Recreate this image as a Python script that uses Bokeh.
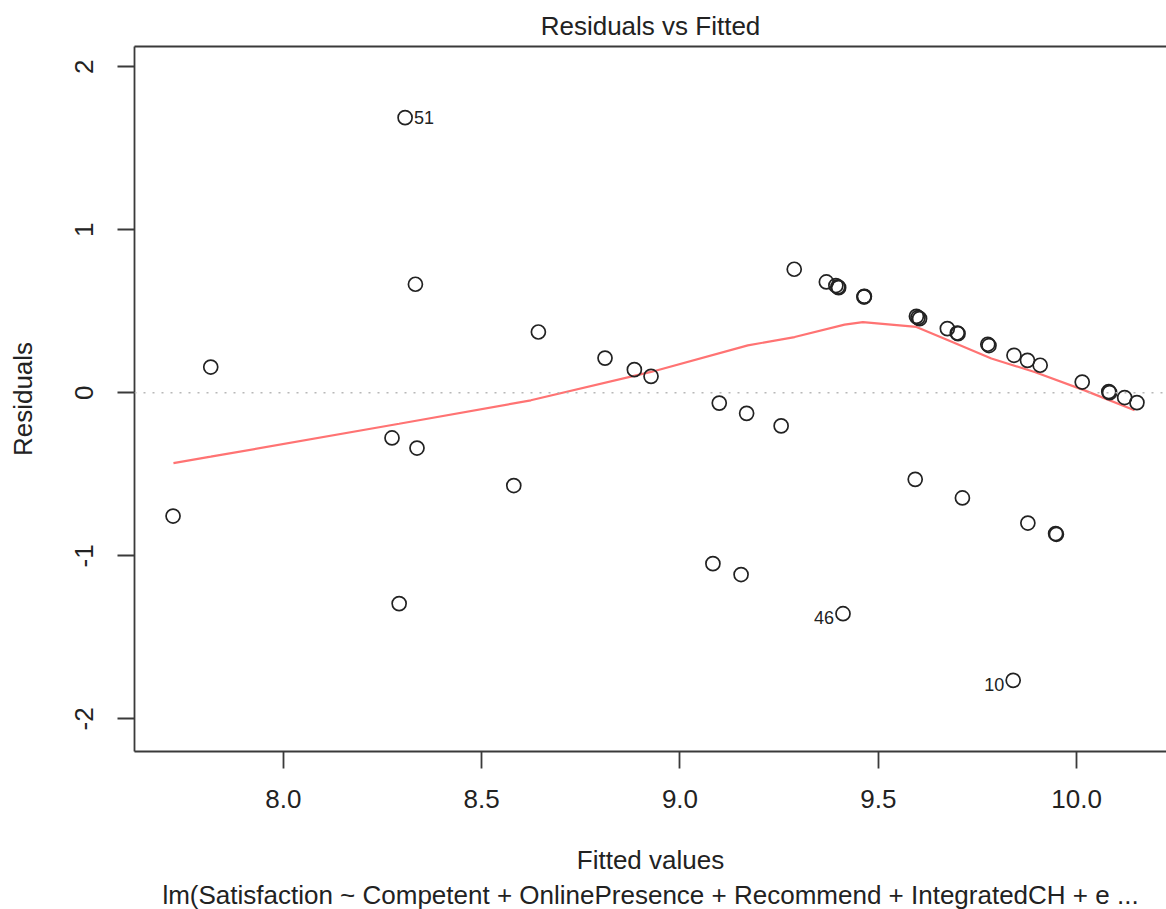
from bokeh.plotting import figure
from bokeh.models import (Range1d, FixedTicker, PrintfTickFormatter, LinearAxis,
                          Span, ColumnDataSource, Title)
from bokeh.embed import file_html
from bokeh.resources import INLINE

# ---------------- data ----------------
fitted = [7.722, 7.817, 8.307, 8.333, 8.274, 8.337, 8.292, 8.581, 8.643, 8.811,
          8.885, 8.927, 9.083, 9.099, 9.154, 9.168, 9.255, 9.288, 9.369, 9.393,
          9.400, 9.398, 9.465, 9.464, 9.464, 9.411, 9.600, 9.596, 9.604, 9.593,
          9.674, 9.699, 9.701, 9.712, 9.776, 9.779, 9.842, 9.876, 9.908, 9.877,
          9.947, 9.949, 9.840, 10.014, 10.081, 10.083, 10.121, 10.152]
residuals = [-0.756, 0.158, 1.688, 0.666, -0.277, -0.339, -1.293, -0.569, 0.373, 0.213,
             0.142, 0.101, -1.048, -0.063, -1.115, -0.126, -0.203, 0.758, 0.680, 0.658,
             0.645, 0.650, 0.592, 0.588, 0.590, -1.355, 0.461, 0.469, 0.455, -0.531,
             0.394, 0.367, 0.363, -0.645, 0.298, 0.290, 0.230, 0.199, 0.169, -0.799,
             -0.864, -0.868, -1.764, 0.066, 0.007, 0.001, -0.029, -0.060]

label_ids = ["51", "46", "10"]
label_x = [8.307, 9.411, 9.840]
label_y = [1.688, -1.355, -1.764]

lowess_x = [7.723, 7.817, 8.292, 8.624, 8.927, 9.171, 9.289, 9.415, 9.461,
            9.596, 9.676, 9.785, 9.894, 10.020, 10.146]
lowess_y = [-0.431, -0.392, -0.190, -0.046, 0.128, 0.291, 0.342, 0.418, 0.434,
            0.404, 0.322, 0.210, 0.128, 0.015, -0.107]

x_ticks = [8.0, 8.5, 9.0, 9.5, 10.0]
y_ticks = [-2, -1, 0, 1, 2]

title_text = "Residuals vs Fitted"
x_label = "Fitted values"
y_label = "Residuals"
sub_text = "lm(Satisfaction ~ Competent + OnlinePresence + Recommend + IntegratedCH + e ..."

# ---------------- layout constants ----------------
FONT = "Liberation Sans"
FS = "26px"
FRAME_W = 1032          # visible part of the frame
FULL_W = 1041           # width of the full R plot region (cropped on the right)
FRAME_H = 705
TXT = "#222222"
AX = "#3a3a3a"

# R style ranges: 4% extension on x; 8% then 4% on y (plot.lm)
xmin, xmax = min(fitted), max(fitted)
dx = xmax - xmin
x0 = xmin - 0.04 * dx
x1_full = xmax + 0.04 * dx
x1 = x0 + (x1_full - x0) * FRAME_W / FULL_W

ymin, ymax = min(residuals), max(residuals)
dy = ymax - ymin
ylo, yhi = ymin - 0.08 * dy, ymax + 0.08 * dy
d2 = yhi - ylo
y0, y1 = ylo - 0.04 * d2, yhi + 0.04 * d2

p = figure(frame_width=FRAME_W, frame_height=FRAME_H,
           min_border_left=134, min_border_right=0,
           min_border_top=46, min_border_bottom=158,
           x_range=Range1d(x0, x1), y_range=Range1d(y0, y1),
           output_backend="svg", toolbar_location=None)
p.outline_line_color = None
p.grid.visible = False
p.background_fill_color = "white"
p.border_fill_color = "white"

# title
p.title.text = title_text
p.title.align = "center"
p.title.text_font = FONT
p.title.text_font_size = FS
p.title.text_font_style = "normal"
p.title.text_color = TXT
p.title.standoff = 12

# bottom axis
xa = p.xaxis[0]
xa.ticker = FixedTicker(ticks=x_ticks)
xa.formatter = PrintfTickFormatter(format="%.1f")
xa.axis_label = x_label
# left axis
ya = p.yaxis[0]
ya.ticker = FixedTicker(ticks=y_ticks)
ya.formatter = PrintfTickFormatter(format="%d")
ya.major_label_orientation = "vertical"
ya.axis_label = y_label
for ax in (xa, ya):
    ax.axis_line_color = AX
    ax.axis_line_width = 1.8
    ax.major_tick_line_color = AX
    ax.major_tick_line_width = 1.8
    ax.major_tick_out = 17
    ax.major_tick_in = 0
    ax.minor_tick_line_color = None
    ax.major_label_text_font = FONT
    ax.major_label_text_font_size = FS
    ax.major_label_text_color = TXT
    ax.axis_label_text_font = FONT
    ax.axis_label_text_font_size = FS
    ax.axis_label_text_font_style = "normal"
    ax.axis_label_text_color = TXT
xa.major_label_standoff = 21
xa.axis_label_standoff = 34
ya.major_label_standoff = 24
ya.axis_label_standoff = 35

# top border line (right side of the R box is cropped away)
top_ax = LinearAxis(ticker=FixedTicker(ticks=[]), major_tick_out=0, major_tick_in=0,
                    minor_tick_out=0, minor_tick_in=0, major_label_standoff=0,
                    major_label_text_font_size="0px",
                    axis_line_color=AX, axis_line_width=1.8)
p.add_layout(top_ax, "above")

# sub caption under the x label
p.add_layout(Title(text=sub_text, align="center", text_font=FONT, text_font_size=FS,
                   text_font_style="normal", text_color=TXT, standoff=1), "below")

# zero reference line
p.add_layout(Span(location=0, dimension="width", line_color="#b8b8b8",
                  line_dash="2 7", line_width=1.6))

# lowess smooth
p.line(lowess_x, lowess_y, line_color="#ff7373", line_width=2.2)

# points
p.scatter(fitted, residuals, marker="circle", size=14, fill_color=None,
          line_color="#222222", line_width=1.7)

# point ids: R puts them left of points in the right half, right of points otherwise
xmid = (xmin + xmax) / 2
aligns = ["right" if lx > xmid else "left" for lx in label_x]
offs = [-9 if a == "right" else 9 for a in aligns]
yoffs = [4 if a == "right" else 0 for a in aligns]
src = ColumnDataSource(dict(x=label_x, y=label_y, t=label_ids, a=aligns, o=offs, yo=yoffs))
p.text(x="x", y="y", text="t", source=src, text_align="a", x_offset="o", y_offset="yo",
       text_baseline="middle", text_font_size="18px", text_color=TXT,
       text_font={"value": FONT})

open("out.html", "w").write(file_html(p, INLINE))
